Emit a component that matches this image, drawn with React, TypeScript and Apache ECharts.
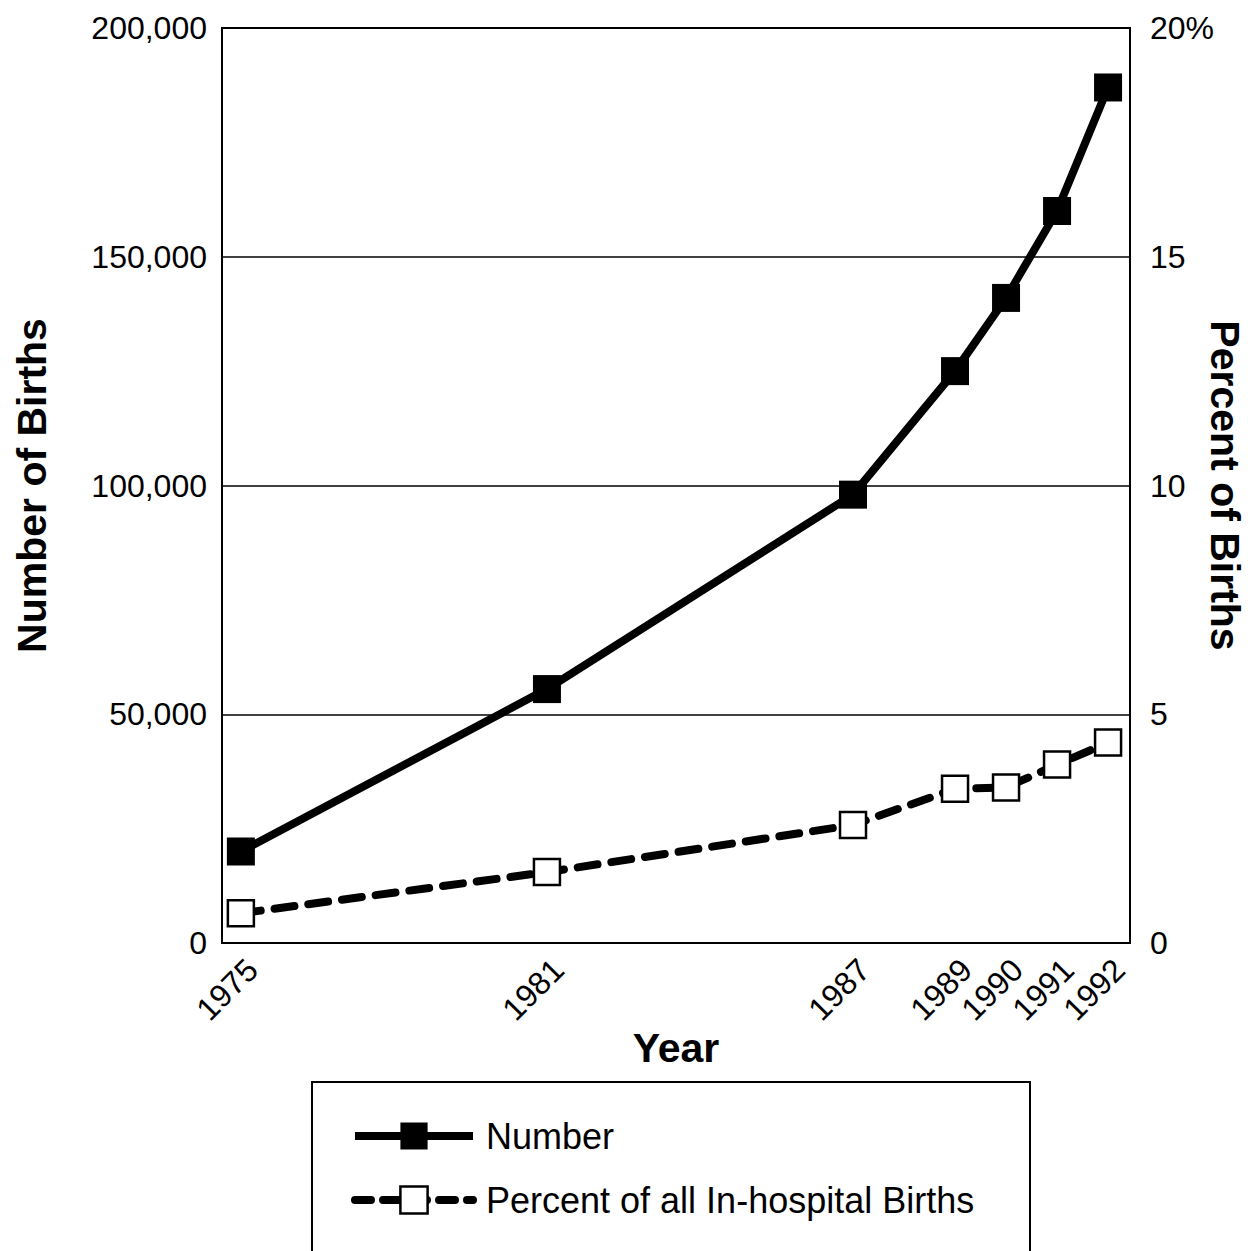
import React, { useEffect, useRef } from "react";
import * as echarts from "echarts";

const years = [1975, 1981, 1987, 1989, 1990, 1991, 1992];
const numberOfBirths = [20000, 55500, 98000, 125000, 141000, 160000, 187000];
const percentOfBirths = [0.65, 1.55, 2.58, 3.37, 3.4, 3.9, 4.38];
const leftTicks = [0, 50000, 100000, 150000, 200000];
const seriesNames = ["Number", "Percent of all In-hospital Births"];

const FONT = "'Liberation Sans', Arial, Helvetica, sans-serif";

export default function App() {
  const ref = useRef<HTMLDivElement>(null);
  useEffect(() => {
    document.body.style.margin = "0";
    const chart = echarts.init(ref.current!, null, { renderer: "svg" });
    chart.setOption({
      animation: false,
      backgroundColor: "#fff",
      textStyle: { fontFamily: FONT, color: "#000" },
      grid: {
        left: 222,
        right: 118,
        top: 28,
        bottom: 308,
        show: true,
        borderColor: "#000",
        borderWidth: 2,
        containLabel: false,
        outerBoundsMode: "none",
      },
      legend: {
        orient: "vertical",
        left: 346,
        top: 1113,
        itemWidth: 118,
        itemHeight: 34,
        itemGap: 28,
        data: [
          {
            name: seriesNames[0],
            lineStyle: { width: 8, color: "#000", type: "solid" },
            itemStyle: { color: "#000", borderWidth: 0 },
          },
          {
            name: seriesNames[1],
            lineStyle: { width: 8, color: "#000", type: [16, 12], cap: "round" },
            itemStyle: { color: "#fff", borderColor: "#000", borderWidth: 2.5 },
          },
        ],
        textStyle: { fontSize: 36, color: "#000", fontFamily: FONT, padding: [0, 0, 0, 8] },
      },
      graphic: [
        {
          type: "rect",
          shape: { x: 312, y: 1082, width: 718, height: 220 },
          style: { fill: "none", stroke: "#000", lineWidth: 2 },
          silent: true,
        },
      ],
      xAxis: {
        type: "value",
        min: 1974.63,
        max: 1992.43,
        name: "Year",
        nameLocation: "middle",
        nameGap: 84,
        nameMoveOverlap: false,
        nameTextStyle: { fontSize: 41, fontWeight: "bold", color: "#000", fontFamily: FONT },
        axisLine: { show: false },
        axisTick: { show: false },
        splitLine: { show: false },
        axisLabel: {
          customValues: years,
          rotate: 45,
          fontSize: 32,
          color: "#000",
          margin: 10,
          verticalAlign: "top",
          formatter: (v: number) => String(Math.round(v)),
        },
      },
      yAxis: [
        {
          type: "value",
          min: 0,
          max: 200000,
          interval: 50000,
          position: "left",
          name: "Number of Births",
          nameLocation: "middle",
          nameRotate: 90,
          nameGap: 170,
          nameMoveOverlap: false,
          nameTextStyle: { fontSize: 41, fontWeight: "bold", color: "#000", fontFamily: FONT },
          axisLine: { show: false },
          axisTick: { show: false },
          splitLine: { show: true, lineStyle: { color: "#000", width: 1.5 } },
          axisLabel: {
            fontSize: 32,
            color: "#000",
            margin: 15,
            customValues: leftTicks,
            formatter: (v: number) => v.toLocaleString("en-US"),
          },
        },
        {
          type: "value",
          min: 0,
          max: 20,
          interval: 5,
          position: "right",
          name: "Percent of Births",
          nameLocation: "middle",
          nameRotate: -90,
          nameGap: 74,
          nameMoveOverlap: false,
          nameTextStyle: { fontSize: 41, fontWeight: "bold", color: "#000", fontFamily: FONT },
          axisLine: { show: false },
          axisTick: { show: false },
          splitLine: { show: false },
          axisLabel: {
            fontSize: 32,
            color: "#000",
            margin: 20,
            formatter: (v: number) => (v === 20 ? "20%" : String(v)),
          },
        },
      ],
      series: [
        {
          name: seriesNames[0],
          type: "line",
          yAxisIndex: 0,
          data: years.map((y, i) => [y, numberOfBirths[i]]),
          symbol: "rect",
          symbolSize: 28,
          lineStyle: { color: "#000", width: 8 },
          itemStyle: { color: "#000", borderColor: "#000", borderWidth: 0 },
          z: 3,
        },
        {
          name: seriesNames[1],
          type: "line",
          yAxisIndex: 1,
          data: years.map((y, i) => [y, percentOfBirths[i]]),
          symbol: "rect",
          symbolSize: 26,
          lineStyle: { color: "#000", width: 8, type: [20, 14], cap: "round" },
          itemStyle: { color: "#fff", borderColor: "#000", borderWidth: 2.5 },
          z: 2,
        },
      ],
    });
    return () => chart.dispose();
  }, []);
  return (
    <div
      ref={ref}
      style={{ position: "absolute", left: 0, top: 0, width: 1248, height: 1251 }}
    />
  );
}
